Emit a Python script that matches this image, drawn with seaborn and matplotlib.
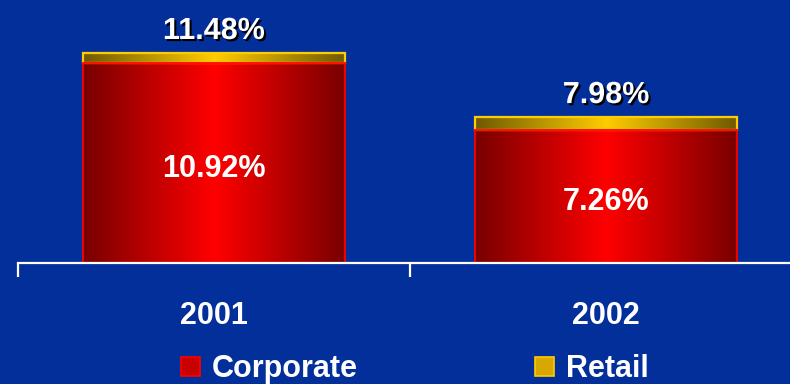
import numpy as np
import pandas as pd
import seaborn as sns
import matplotlib
matplotlib.use("Agg")
import matplotlib.pyplot as plt
import matplotlib.patheffects as pe
from matplotlib.colors import LinearSegmentedColormap
from matplotlib.patches import Patch

# Data
years = ["2001", "2002"]
corporate = [10.92, 7.26]
total = [11.48, 7.98]
series = ["Corporate", "Retail"]

BG = "#032f9b"
RED_EDGE = "#ff0000"
GOLD_EDGE = "#ffcc00"

sns.set_theme(style="white")
plt.rcParams["font.family"] = ["Liberation Sans", "DejaVu Sans"]

fig = plt.figure(figsize=(7.9, 3.84), dpi=100, facecolor=BG)
ax = fig.add_axes([18 / 790, (384 - 263) / 384, (790 - 18) / 790, 263 / 384])
ax.set_facecolor(BG)

df = pd.DataFrame({"year": years, "corporate": corporate, "total": total})

# Retail segment (drawn as the full total, then moved to sit on the corporate part)
sns.barplot(data=df, x="year", y="total", color=GOLD_EDGE, width=0.67,
            saturation=1, ax=ax)
n_retail = len(ax.patches)
sns.barplot(data=df, x="year", y="corporate", color=RED_EDGE, width=0.67,
            saturation=1, ax=ax)

retail_patches = ax.patches[:n_retail]
corp_patches = ax.patches[n_retail:]

for p, c, t in zip(retail_patches, corporate, total):
    p.set_y(c)
    p.set_height(t - c)

# horizontal "tube" shading
t = np.linspace(0, 1, 256)
shade = (1 - np.abs(2 * t - 1))[None, :]
red_cmap = LinearSegmentedColormap.from_list("red_tube", ["#780000", "#ff0000"])
gold_cmap = LinearSegmentedColormap.from_list("gold_tube", ["#6e5a00", "#ffcc00"])


def shade_bar(patch, cmap, edge, lw):
    x, y = patch.get_x(), patch.get_y()
    w, h = patch.get_width(), patch.get_height()
    ax.imshow(shade, cmap=cmap, extent=[x, x + w, y, y + h], aspect="auto",
              origin="lower", zorder=2, interpolation="bilinear", vmin=0, vmax=1)
    patch.set_facecolor("none")
    patch.set_edgecolor(edge)
    patch.set_linewidth(lw)
    patch.set_zorder(3)


for p in corp_patches:
    shade_bar(p, red_cmap, RED_EDGE, 1.3)
for p in retail_patches:
    shade_bar(p, gold_cmap, GOLD_EDGE, 1.6)

# Axis styling
for s in ["left", "right", "top"]:
    ax.spines[s].set_visible(False)
ax.spines["bottom"].set_color("white")
ax.spines["bottom"].set_linewidth(1.6)
ax.spines["bottom"].set_zorder(4)
ax.set_yticks([])
ax.set_xlabel("")
ax.set_ylabel("")
ax.set_xticks(range(len(years)))
ax.set_xticklabels(years)
ax.set_xticks([-0.5, 0.5, 1.5], minor=True)
ax.tick_params(axis="x", which="major", bottom=False, length=0, pad=27,
               labelsize=22, labelcolor="white")
ax.tick_params(axis="x", which="minor", bottom=True, length=10, width=1.6,
               color="white", direction="out")
for lbl in ax.get_xticklabels():
    lbl.set_fontweight("bold")

shadow = [pe.SimplePatchShadow(offset=(1.5, -1.5), shadow_rgbFace="black",
                               alpha=1.0), pe.Normal()]

for i, (c, tot) in enumerate(zip(corporate, total)):
    ax.annotate(f"{tot:.2f}%", xy=(i, tot), xytext=(0, 10),
                textcoords="offset points", ha="center", va="baseline",
                color="white", fontsize=22, fontweight="bold",
                path_effects=shadow, zorder=5, annotation_clip=False)
    ax.annotate(f"{c:.2f}%", xy=(i, c / 2), xytext=(0, -4),
                textcoords="offset points", ha="center", va="center",
                color="white", fontsize=22, fontweight="bold", zorder=5)

handles = [Patch(facecolor="#c80000", edgecolor=RED_EDGE, linewidth=1.2),
           Patch(facecolor="#d8a800", edgecolor=GOLD_EDGE, linewidth=1.2)]
fig.legend(handles=handles, labels=series, ncol=2, loc="center",
           bbox_to_anchor=(0.525, 0.038), frameon=False,
           prop={"size": 22, "weight": "bold"}, labelcolor="white",
           handlelength=0.62, handleheight=0.58, handletextpad=0.4,
           columnspacing=5.8, borderpad=0)

ax.set_xlim(-0.5, 1.469)
ax.set_ylim(0, 14.37)
ax.set_autoscale_on(False)

fig.savefig("out.png", dpi=100, facecolor=BG)
